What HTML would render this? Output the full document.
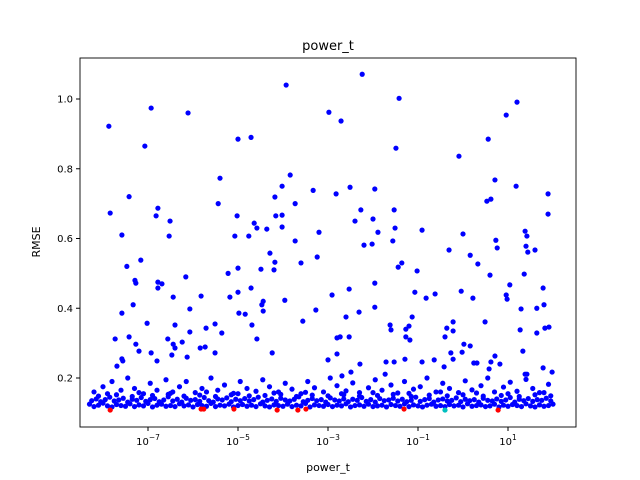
<!DOCTYPE html>
<html><head><meta charset="utf-8"><style>
body{margin:0;background:#fff;}
svg{display:block;font-family:"DejaVu Sans","Liberation Sans",sans-serif;}
</style></head><body>
<svg id="chart" width="640" height="480">
<rect x="0" y="0" width="640" height="480" fill="#fff"/>
<text x="328" y="50" font-size="13" text-anchor="middle">power_t</text>
<text x="328" y="471" font-size="11" text-anchor="middle">power_t</text>
<text x="40" y="242" font-size="11" text-anchor="middle" transform="rotate(-90 40 242)">RMSE</text>
<g id="marks"></g>
<g id="axes"></g>
</svg>
<script>
// upper scattered points: log10(power_t) and RMSE
const upX=[-7.87,-6.93,-6.11,-3.93,-7.07,-5.0,-4.71,-7.84,-7.42,-7.58,-6.82,-6.78,-6.51,-6.53,-7.47,-7.16,-7.29,-7.27,-6.78,-6.69,-6.78,-7.33,-7.58,-7.02,-6.16,-6.44,-6.07,-6.4,-6.07,-5.4,-5.44,-5.02,-5.07,-4.76,-4.58,-4.64,-4.36,-5.0,-5.22,-4.49,-4.29,-4.18,-4.2,-5.18,-5.0,-4.71,-4.44,-4.47,-4.44,-4.98,-4.84,-4.69,-5.82,-5.51,-5.71,-5.36,-4.58,-4.18,-4.02,-3.84,-4.16,-4.02,-4.02,-3.73,-3.73,-3.6,-3.33,-3.2,-3.24,-3.96,-3.27,-3.56,-2.98,-7.73,-7.42,-7.27,-7.2,-7.58,-6.56,-6.44,-6.4,-6.24,-6.93,-5.84,-5.73,-6.13,-6.47,-5.51,-4.24,-6.8,-7.69,-7.56,
-2.24,-1.42,-2.71,-1.49,1.2,0.96,0.56,-0.09,0.71,1.18,-2.51,-1.96,-2.82,1.89,1.89,-2.27,-1.53,-2.4,-2.0,-1.89,-1.51,-1.56,-2.2,-2.02,-0.91,0.53,0.62,0.0,-0.31,0.16,0.33,0.73,0.76,1.38,1.42,1.4,1.44,1.6,1.36,1.04,1.78,0.96,0.98,1.8,1.64,1.29,1.82,1.91,1.27,1.64,1.33,0.6,-1.44,-1.36,-1.02,-1.07,-0.82,-0.62,-0.04,0.22,-1.96,-2.53,-2.91,-1.96,-2.31,-2.6,-1.13,-1.62,-1.6,-1.27,-1.2,-1.27,-1.18,-2.8,-2.73,-2.53,-0.36,-0.22,-0.22,-0.4,0.49,0.02,0.16,-0.27,-0.02,-2.8,-3.0,-2.29,-1.71,-1.53,-0.91,-0.64,-1.29,0.71,0.62,0.82,0.24,0.31,-0.22,-0.42,1.78,1.98,1.38,1.42,0.58,-1.73,-2.49,-2.69];
const upY=[0.922,0.974,0.96,1.04,0.865,0.885,0.89,0.673,0.72,0.61,0.665,0.687,0.65,0.607,0.52,0.538,0.48,0.472,0.475,0.47,0.458,0.41,0.386,0.357,0.49,0.432,0.398,0.352,0.332,0.773,0.70,0.665,0.607,0.607,0.63,0.644,0.627,0.515,0.50,0.512,0.558,0.532,0.51,0.432,0.446,0.458,0.42,0.41,0.392,0.386,0.383,0.352,0.435,0.355,0.343,0.329,0.312,0.719,0.75,0.782,0.665,0.667,0.633,0.70,0.593,0.53,0.738,0.618,0.547,0.423,0.395,0.363,0.962,0.312,0.318,0.297,0.277,0.255,0.312,0.297,0.286,0.303,0.272,0.286,0.289,0.26,0.266,0.272,0.272,0.249,0.234,0.249,
1.071,1.002,0.937,0.859,0.991,0.954,0.885,0.836,0.768,0.75,0.747,0.742,0.728,0.728,0.67,0.682,0.682,0.65,0.656,0.618,0.63,0.593,0.581,0.584,0.624,0.707,0.713,0.613,0.567,0.552,0.527,0.595,0.573,0.621,0.607,0.578,0.561,0.567,0.498,0.467,0.458,0.438,0.426,0.41,0.40,0.398,0.343,0.346,0.338,0.329,0.277,0.495,0.518,0.53,0.507,0.446,0.429,0.441,0.449,0.429,0.472,0.455,0.438,0.403,0.389,0.375,0.375,0.352,0.338,0.34,0.349,0.318,0.309,0.315,0.318,0.318,0.343,0.361,0.335,0.318,0.361,0.297,0.292,0.272,0.274,0.269,0.252,0.24,0.246,0.246,0.246,0.252,0.254,0.263,0.246,0.24,0.243,0.243,0.254,0.232,0.229,0.217,0.211,0.211,0.226,0.211,0.217,0.206];
// dense band rows
const bandAX=[-8.3,-8.2,-8.1,-8.0,-7.9,-7.8,-7.7,-7.6,-7.5,-7.4,-7.3,-7.2,-7.1,-7.0,-6.9,-6.8,-6.7,-6.6,-6.5,-6.4,-6.3,-6.2,-6.1,-6.0,-5.9,-5.8,-5.7,-5.6,-5.5,-5.4,-5.3,-5.2,-5.1,-5.0,-4.9,-4.8,-4.7,-4.6,-4.5,-4.4,-4.3,-4.2,-4.1,-4.0,-3.9,-3.8,-3.7,-3.6,-3.5,-3.4,-3.3,-3.2,-3.1,-3.0,-2.9,-2.8,-2.7,-2.6,-2.5,-2.4,-2.3,-2.2,-2.1,-2.0,-1.9,-1.8,-1.7,-1.6,-1.5,-1.4,-1.3,-1.2,-1.1,-1.0,-0.9,-0.8,-0.7,-0.6,-0.5,-0.4,-0.3,-0.2,-0.1,0.0,0.1,0.2,0.3,0.4,0.5,0.6,0.7,0.8,0.9,1.0,1.1,1.2,1.3,1.4,1.5,1.6,1.7,1.8,1.9,2.0];
const bandAY=[0.125,0.118,0.122,0.128,0.12,0.117,0.124,0.121,0.119,0.126,0.118,0.123,0.12,0.127,0.117,0.122,0.125,0.119,0.121,0.118,0.126,0.12,0.123,0.117,0.124,0.121,0.119,0.127,0.118,0.122,0.12,0.125,0.117,0.121,0.124,0.119,0.122,0.118,0.126,0.12,0.117,0.123,0.121,0.119,0.125,0.118,0.122,0.12,0.127,0.117,0.123,0.121,0.119,0.124,0.118,0.122,0.12,0.126,0.117,0.121,0.123,0.119,0.125,0.118,0.12,0.122,0.117,0.124,0.121,0.119,0.126,0.118,0.123,0.12,0.117,0.122,0.125,0.119,0.121,0.118,0.124,0.12,0.122,0.117,0.126,0.119,0.121,0.123,0.118,0.12,0.125,0.117,0.122,0.119,0.124,0.121,0.118,0.126,0.12,0.117,0.123,0.119,0.121,0.125];
const bandBX=[-8.25,-8.15,-8.05,-7.95,-7.85,-7.75,-7.65,-7.55,-7.45,-7.35,-7.25,-7.15,-7.05,-6.95,-6.85,-6.75,-6.65,-6.55,-6.45,-6.35,-6.25,-6.15,-6.05,-5.95,-5.85,-5.75,-5.65,-5.55,-5.45,-5.35,-5.25,-5.15,-5.05,-4.95,-4.85,-4.75,-4.65,-4.55,-4.45,-4.35,-4.25,-4.15,-4.05,-3.95,-3.85,-3.75,-3.65,-3.55,-3.45,-3.35,-3.25,-3.15,-3.05,-2.95,-2.85,-2.75,-2.65,-2.55,-2.45,-2.35,-2.25,-2.15,-2.05,-1.95,-1.85,-1.75,-1.65,-1.55,-1.45,-1.35,-1.25,-1.15,-1.05,-0.95,-0.85,-0.75,-0.65,-0.55,-0.45,-0.35,-0.25,-0.15,-0.05,0.05,0.15,0.25,0.35,0.45,0.55,0.65,0.75,0.85,0.95,1.05,1.15,1.25,1.35,1.45,1.55,1.65,1.75,1.85,1.95];
const bandBY=[0.135,0.14,0.132,0.138,0.145,0.134,0.137,0.142,0.131,0.139,0.136,0.144,0.133,0.138,0.141,0.132,0.137,0.146,0.134,0.139,0.131,0.142,0.136,0.138,0.133,0.144,0.135,0.131,0.14,0.137,0.143,0.132,0.139,0.135,0.141,0.134,0.138,0.145,0.131,0.136,0.14,0.133,0.142,0.137,0.134,0.139,0.146,0.132,0.136,0.141,0.135,0.138,0.131,0.143,0.137,0.134,0.14,0.132,0.139,0.136,0.144,0.133,0.138,0.131,0.141,0.135,0.137,0.142,0.134,0.139,0.132,0.136,0.145,0.133,0.138,0.141,0.131,0.137,0.14,0.134,0.136,0.143,0.132,0.139,0.135,0.138,0.131,0.142,0.136,0.134,0.14,0.133,0.137,0.144,0.131,0.139,0.135,0.141,0.133,0.138,0.136,0.142,0.134];
const bandCX=[-8.2,-8.0,-7.8,-7.6,-7.45,-7.3,-7.1,-6.95,-6.8,-6.6,-6.45,-6.3,-6.15,-5.95,-5.8,-5.6,-5.45,-5.3,-5.1,-4.95,-4.8,-4.6,-4.45,-4.3,-4.1,-3.95,-3.8,-3.6,-3.45,-3.3,-3.1,-2.95,-2.8,-2.6,-2.45,-2.3,-2.1,-1.95,-1.8,-1.6,-1.45,-1.3,-1.1,-0.95,-0.8,-0.6,-0.45,-0.3,-0.1,0.05,0.2,0.4,0.55,0.7,0.9,1.05,1.2,1.4,1.55,1.7,1.9,-7.9,-7.2,-6.5,-5.7,-5.0,-4.2,-3.5,-2.7,-2.0,-1.2,-0.5,0.3,1.0,1.8];
const bandCY=[0.16,0.175,0.19,0.165,0.2,0.17,0.155,0.185,0.165,0.195,0.16,0.175,0.19,0.158,0.17,0.2,0.165,0.18,0.156,0.19,0.17,0.162,0.195,0.175,0.16,0.185,0.168,0.155,0.19,0.172,0.16,0.2,0.178,0.163,0.186,0.158,0.172,0.195,0.165,0.18,0.157,0.19,0.168,0.175,0.2,0.16,0.185,0.17,0.158,0.192,0.166,0.178,0.2,0.16,0.174,0.188,0.162,0.196,0.17,0.158,0.182,0.155,0.158,0.156,0.16,0.155,0.157,0.159,0.155,0.158,0.156,0.16,0.157,0.155,0.158];
const bandDX=[-8.1,-7.7,-7.35,-6.9,-6.55,-6.2,-5.85,-5.5,-5.15,-4.75,-4.4,-4.05,-3.7,-3.35,-3.0,-2.65,-2.3,-1.9,-1.55,-1.15,-0.75,-0.35,0.0,0.45,0.85,1.25,1.6,1.95];
const bandDY=[0.148,0.152,0.147,0.15,0.153,0.148,0.151,0.147,0.152,0.149,0.15,0.153,0.147,0.151,0.149,0.152,0.148,0.15,0.153,0.147,0.151,0.149,0.152,0.148,0.15,0.147,0.152,0.149];
// best points
const redX=[-7.84,-5.82,-5.76,-5.09,-4.13,-3.67,-3.49,-1.31,0.78];
const redY=[0.108,0.111,0.111,0.111,0.108,0.108,0.111,0.111,0.108];
const cyanX=[-0.4];
const cyanY=[0.108];
const xTicks=[-7,-5,-3,-1,1];
const yTicks=[0.2,0.4,0.6,0.8,1.0];
const yTickLabels=["0.2","0.4","0.6","0.8","1.0"];

const L=80,R=576,T=58,B=427;
const xMin=-8.511,xMax=2.511,yMin=0.0595,yMax=1.1176;
function sx(v){return L+(v-xMin)/(xMax-xMin)*(R-L);}
function sy(v){return B-(v-yMin)/(yMax-yMin)*(B-T);}
const NS="http://www.w3.org/2000/svg";
const marks=document.getElementById('marks');
function dots(xs,ys,color,name){
  for(let i=0;i<xs.length;i++){
    const c=document.createElementNS(NS,'circle');
    c.setAttribute('cx',sx(xs[i]));c.setAttribute('cy',sy(ys[i]));
    c.setAttribute('r',2.6);c.setAttribute('fill',color);
    
    
    marks.appendChild(c);
  }
}
dots(bandAX,bandAY,'#0000ff','point');
dots(bandBX,bandBY,'#0000ff','point');
dots(bandDX,bandDY,'#0000ff','point');
dots(bandCX,bandCY,'#0000ff','point');
dots(upX,upY,'#0000ff','point');
dots(redX,redY,'#ff0000','best-point');
dots(cyanX,cyanY,'#00bfbf','selected-point');

const axes=document.getElementById('axes');
const frame=document.createElementNS(NS,'rect');
frame.setAttribute('x',L);frame.setAttribute('y',T);frame.setAttribute('width',R-L);frame.setAttribute('height',B-T);
frame.setAttribute('fill','none');frame.setAttribute('stroke','#000');frame.setAttribute('stroke-width','0.9');


axes.appendChild(frame);
xTicks.forEach(function(e){
  const x=sx(e);
  const t=document.createElementNS(NS,'line');
  t.setAttribute('x1',x);t.setAttribute('x2',x);t.setAttribute('y1',B);t.setAttribute('y2',B+4);t.setAttribute('stroke','#000');
  
  
  axes.appendChild(t);
  const tx=document.createElementNS(NS,'text');
  tx.setAttribute('x',x);tx.setAttribute('y',B+18);tx.setAttribute('font-size','10');tx.setAttribute('text-anchor','middle');
  tx.innerHTML='10<tspan dy="-5" font-size="7.5">\u2212'+Math.abs(e)+'</tspan>';
  if(e>0) tx.innerHTML='10<tspan dy="-5" font-size="7.5">'+e+'</tspan>';
  
  
  axes.appendChild(tx);
});
yTicks.forEach(function(v,i){
  const y=sy(v);
  const t=document.createElementNS(NS,'line');
  t.setAttribute('x1',L-4);t.setAttribute('x2',L);t.setAttribute('y1',y);t.setAttribute('y2',y);t.setAttribute('stroke','#000');
  
  
  axes.appendChild(t);
  const tx=document.createElementNS(NS,'text');
  tx.setAttribute('x',L-7);tx.setAttribute('y',y+3.5);tx.setAttribute('font-size','10');tx.setAttribute('text-anchor','end');
  tx.textContent=yTickLabels[i];
  
  
  axes.appendChild(tx);
});
</script>
</body></html>
